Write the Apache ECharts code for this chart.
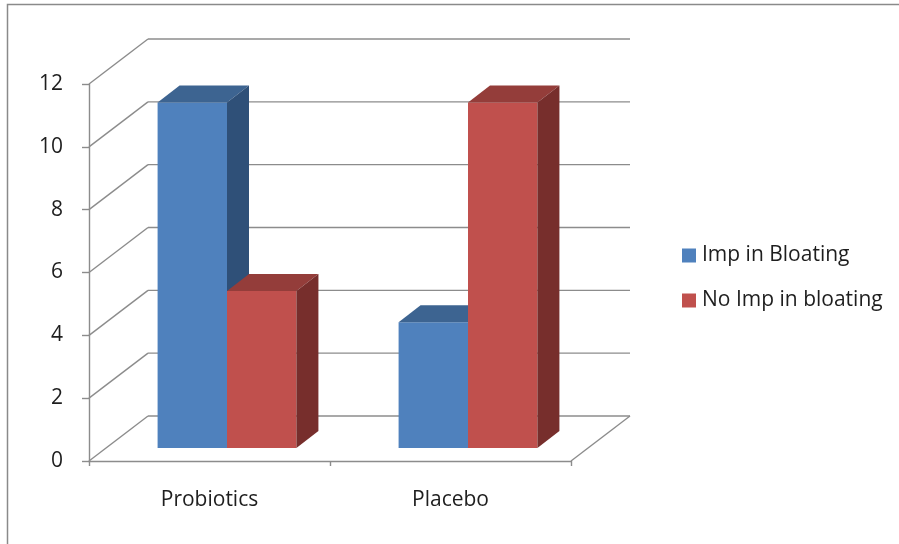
<!DOCTYPE html>
<html>
<head>
<meta charset="utf-8">
<script src="https://cdn.jsdelivr.net/npm/echarts@6/dist/echarts.min.js"></script>
<style>
  html, body { margin: 0; padding: 0; background: #ffffff; }
  #chart { width: 899px; height: 544px; }
</style>
</head>
<body>
<div id="chart"></div>
<script>
// Bloating improvement: probiotics vs placebo (patient counts)
var categories = ['Probiotics', 'Placebo'];
var seriesNames = ['Imp in Bloating', 'No Imp in bloating'];
var impInBloating = [11, 4];
var noImpInBloating = [5, 11];
var yTicks = [0, 2, 4, 6, 8, 10, 12];

// Pseudo-3D geometry (pixel offsets of the depth axis)
var WALL_DX = 59, WALL_DY = -45;      // front plane -> back wall
var BAR_DX = 17.5, BAR_DY = -13;      // front plane -> bar front face
var BAR_DEPTH_X = 22, BAR_DEPTH_Y = -17; // bar front -> bar back
var BAR_FRACTION = 0.288;             // bar width relative to category band

var palette = [
  { front: '#4F81BD', top: '#3D6491', side: '#2F5078' },
  { front: '#C0504D', top: '#943D3A', side: '#772E2C' }
];

var FONT = 'Open Sans';
var FONT_SIZE = 21;
var TEXT_COLOR = '#1E1E1E';
var GRID_COLOR = '#8C8C8C';

var chart = echarts.init(document.getElementById('chart'), null, { renderer: 'canvas' });

// Back wall, side wall diagonals and floor edge
function renderWalls(params, api) {
  var v = api.value(1);
  var cs = params.coordSys;
  var y = api.coord([0, v])[1];
  var x0 = cs.x, x1 = cs.x + cs.width;
  var style = { stroke: GRID_COLOR, lineWidth: 1.4, fill: null };
  var children = [
    { type: 'line', shape: { x1: x0, y1: y, x2: x0 + WALL_DX, y2: y + WALL_DY }, style: style },
    { type: 'line', shape: { x1: x0 + WALL_DX, y1: y + WALL_DY, x2: x1 + WALL_DX, y2: y + WALL_DY }, style: style }
  ];
  if (v === yTicks[0]) {
    children.push({ type: 'line', shape: { x1: x1, y1: y, x2: x1 + WALL_DX, y2: y + WALL_DY }, style: style });
  }
  return { type: 'group', children: children };
}

function makeBarRenderer(seriesIndex) {
  return function (params, api) {
    var ci = api.value(0);
    var val = api.value(1);
    var band = api.size([1, 0])[0];
    var w = band * BAR_FRACTION;
    var center = api.coord([ci, 0]);
    var topPt = api.coord([ci, val]);
    var left = center[0] + BAR_DX - w + seriesIndex * w;
    var right = left + w;
    var yb = center[1] + BAR_DY;
    var yt = topPt[1] + BAR_DY;
    var c = palette[seriesIndex];
    return {
      type: 'group',
      children: [
        { type: 'polygon', shape: { points: [[left, yt], [right, yt], [right, yb], [left, yb]] },
          style: { fill: c.front } },
        { type: 'polygon', shape: { points: [[left, yt], [left + BAR_DEPTH_X, yt + BAR_DEPTH_Y],
            [right + BAR_DEPTH_X, yt + BAR_DEPTH_Y], [right, yt]] },
          style: { fill: c.top } },
        { type: 'polygon', shape: { points: [[right, yt], [right + BAR_DEPTH_X, yt + BAR_DEPTH_Y],
            [right + BAR_DEPTH_X, yb + BAR_DEPTH_Y], [right, yb]] },
          style: { fill: c.side } }
      ]
    };
  };
}

function seriesData(values) {
  return values.map(function (v, i) { return [i, v]; });
}

var option = {
  animation: false,
  backgroundColor: '#ffffff',
  color: [palette[0].front, palette[1].front],
  textStyle: { fontFamily: FONT },
  graphic: [{
    type: 'rect', silent: true, z: -10,
    shape: { x: 7.5, y: 4.5, width: 1000, height: 1000 },
    style: { fill: null, stroke: '#8A8A8A', lineWidth: 1.5 }
  }],
  grid: { left: 89, right: 328, top: 84, bottom: 83 },
  legend: {
    orient: 'vertical',
    left: 677,
    top: 240,
    itemWidth: 14,
    itemHeight: 14,
    itemGap: 24,
    icon: 'rect',
    data: seriesNames,
    textStyle: { fontFamily: FONT, fontSize: FONT_SIZE, lineHeight: 21, color: TEXT_COLOR, padding: [0, 0, 0, 1] }
  },
  xAxis: {
    type: 'category',
    data: categories,
    axisLine: { lineStyle: { color: GRID_COLOR, width: 1.4 } },
    axisTick: { show: true, length: 5, lineStyle: { color: GRID_COLOR, width: 1.4 } },
    axisLabel: { margin: 29, fontFamily: FONT, fontSize: FONT_SIZE, color: TEXT_COLOR },
    splitLine: { show: false }
  },
  yAxis: {
    type: 'value',
    min: 0, max: 12, interval: 2,
    axisLine: { show: true, lineStyle: { color: GRID_COLOR, width: 1.4 } },
    axisTick: { show: true, length: 7, lineStyle: { color: GRID_COLOR, width: 1.4 } },
    axisLabel: { margin: 26, fontFamily: FONT, fontSize: FONT_SIZE, color: TEXT_COLOR },
    splitLine: { show: false }
  },
  series: [
    {
      type: 'custom',
      name: 'walls',
      silent: true,
      clip: false,
      z: 1,
      renderItem: renderWalls,
      encode: { x: 0, y: 1 },
      data: yTicks.map(function (v) { return [0, v]; })
    },
    {
      type: 'custom',
      name: seriesNames[0],
      clip: false,
      z: 2,
      itemStyle: { color: palette[0].front },
      renderItem: makeBarRenderer(0),
      encode: { x: 0, y: 1 },
      data: seriesData(impInBloating)
    },
    {
      type: 'custom',
      name: seriesNames[1],
      clip: false,
      z: 3,
      itemStyle: { color: palette[1].front },
      renderItem: makeBarRenderer(1),
      encode: { x: 0, y: 1 },
      data: seriesData(noImpInBloating)
    }
  ]
};

chart.setOption(option);
</script>
</body>
</html>
